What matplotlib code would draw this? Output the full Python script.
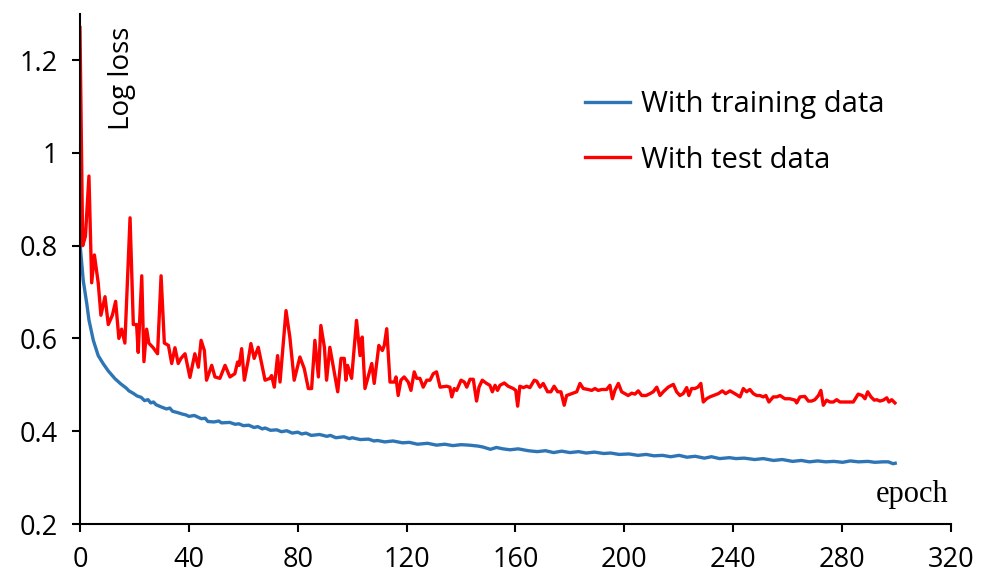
import matplotlib
matplotlib.use("Agg")
import matplotlib.pyplot as plt

# test-data log loss, vertices (epoch, value)
test_epoch = [0, 1, 2, 3.3, 4.3, 5.3, 6.7, 7.7, 9.2, 10.4, 11.9, 13.1, 14.3, 15.3, 16.5,
              18.4, 19.6, 20.8, 21.4, 22.7, 23.5, 24.5, 25.3, 26.9, 28.5, 29.8, 31, 32.5,
              33.7, 34.9, 36.1, 37.1, 38.6, 40.4, 42.2, 43.5, 44.5, 45.7, 46.5, 48.4, 49.6,
              51.4, 53.3, 55.1, 56.9, 57.9, 58.5, 59.4, 60.4, 61.8, 62.8, 64, 65.5, 67, 68,
              69.8, 70.4, 71.4, 72.6, 73.5, 75.7, 77.1, 78.7, 80.8, 82.4, 83.9, 85.1, 86.3,
              87.6, 88.5, 89.8, 90.6, 91.8, 93.1, 94.7, 95.9, 97.1, 97.7, 98.3, 99.8, 101.6,
              102.9, 103.7, 104.7, 107.2, 108.1, 109.8, 111.1, 111.8, 112.7, 113.9, 115.5,
              116.1, 116.9, 117.9, 119.1, 120.6, 121.6, 122.8, 123.7, 124.9, 126.1, 127.4,
              128.6, 129.8, 131, 132.3, 134.7, 135.9, 136.6, 137.5, 138.4, 140, 141.2, 142.1,
              143.3, 144.5, 145.7, 146.6, 147.8, 149.4, 150.6, 151.5, 152.5, 153.4, 154.3,
              155.9, 157.3, 159.2, 160.1, 160.8, 161.6, 162.9, 164.1, 165.3, 166.9, 167.8,
              169, 170.2, 171.8, 173, 174.2, 175.5, 176.7, 177.9, 178.8, 180.6, 182.5, 183.7,
              184.9, 186.7, 188, 189.2, 190.4, 191.7, 193.5, 194.7, 195.6, 196.5, 197.8, 199,
              200.2, 201.4, 202.7, 203.9, 205.1, 206.4, 208, 209.4, 210.6, 211.9, 213.1,
              214.3, 216.1, 218, 219.2, 220.4, 221.6, 222.9, 223.7, 224.7, 225.9, 227, 228.1,
              229, 230.2, 231.4, 232.7, 234.5, 236, 237.2, 238.8, 240.6, 242.5, 243.7, 244.9,
              246.1, 247.4, 248.6, 249.8, 251, 252, 253.1, 254.7, 256, 257.2, 259, 260.8,
              262.7, 263.3, 264.5, 266.3, 267.6, 268.8, 270, 271.3, 272.2, 273.1, 274.3,
              275.5, 276.8, 278, 279.2, 280.4, 282.3, 284.1, 285.9, 287.4, 288.4, 289.4,
              290.6, 291.8, 292.7, 293.9, 295.1, 296.4, 297.2, 298.2, 299.4]
test_loss = [1.27, 0.80, 0.82, 0.95, 0.72, 0.78, 0.72, 0.65, 0.69, 0.63, 0.65, 0.68, 0.60, 0.62, 0.59,
             0.86, 0.63, 0.63, 0.57, 0.735, 0.55, 0.62, 0.59, 0.58, 0.567, 0.735, 0.59, 0.585,
             0.546, 0.58, 0.546, 0.557, 0.567, 0.516, 0.567, 0.538, 0.596, 0.574, 0.51, 0.542, 0.517,
             0.514, 0.542, 0.517, 0.524, 0.549, 0.542, 0.578, 0.51, 0.553, 0.589, 0.557, 0.581, 0.538, 0.51,
             0.514, 0.52, 0.495, 0.563, 0.506, 0.66, 0.603, 0.51, 0.56, 0.535, 0.492, 0.492, 0.596,
             0.517, 0.628, 0.581, 0.51, 0.581, 0.538, 0.485, 0.557, 0.557, 0.51, 0.542, 0.514, 0.639,
             0.563, 0.603, 0.492, 0.546, 0.503, 0.585, 0.574, 0.585, 0.621, 0.506, 0.506,
             0.517, 0.477, 0.51, 0.517, 0.506, 0.488, 0.528, 0.514, 0.514, 0.495, 0.51,
             0.51, 0.524, 0.528, 0.495, 0.497, 0.495, 0.474, 0.492, 0.488, 0.51, 0.506, 0.495,
             0.512, 0.512, 0.465, 0.495, 0.51, 0.503, 0.499, 0.485, 0.499, 0.488, 0.499,
             0.504, 0.497, 0.492, 0.488, 0.454, 0.497, 0.494, 0.497, 0.494, 0.51, 0.508,
             0.495, 0.503, 0.485, 0.485, 0.497, 0.485, 0.485, 0.456, 0.477, 0.481, 0.485, 0.503,
             0.492, 0.49, 0.488, 0.492, 0.488, 0.49, 0.49, 0.499, 0.47, 0.488, 0.503, 0.485,
             0.481, 0.477, 0.482, 0.48, 0.487, 0.477, 0.477, 0.481, 0.485, 0.495, 0.477,
             0.485, 0.495, 0.501, 0.485, 0.477, 0.481, 0.494, 0.477, 0.492, 0.492, 0.495, 0.503,
             0.463, 0.47, 0.474, 0.477, 0.481, 0.487, 0.481, 0.487, 0.481, 0.474, 0.492, 0.485,
             0.49, 0.481, 0.477, 0.477, 0.474, 0.477, 0.463, 0.474, 0.474, 0.477, 0.47, 0.47,
             0.467, 0.461, 0.474, 0.475, 0.465, 0.465, 0.468, 0.477, 0.488, 0.456, 0.467,
             0.463, 0.463, 0.468, 0.463, 0.463, 0.463, 0.463, 0.48, 0.477, 0.47, 0.485,
             0.474, 0.467, 0.468, 0.465, 0.467, 0.472, 0.463, 0.468, 0.461]

# training-data log loss (small wiggles as seen in the picture)
train_epoch = [0, 1.2, 2.5, 3.3, 4.9, 6.7, 8.6, 10.4, 12.9, 15, 17, 18, 19.5, 21, 22.5, 23.7,
               25, 26, 27, 28, 30, 31.8, 33, 34, 36, 37.6, 39, 40, 42, 44.6, 46, 47, 49.2, 51,
               52, 55, 57, 58.4, 60, 62, 64, 65.3, 67, 68, 70, 72.3, 74, 76, 78, 80, 81.5, 83,
               85, 88, 90.7, 92, 94, 97, 99, 100, 103, 106, 108, 109.3, 112, 115, 118.5, 121,
               124, 127.7, 131, 134, 137, 140, 143, 146.2, 148, 150.8, 153, 155.4, 158, 161,
               164.7, 168, 171, 174, 177, 180, 183.2, 186, 189, 192.4, 195, 198, 201.7, 205,
               208, 210.9, 214, 217, 220.1, 223, 226, 229.4, 232, 235, 238.6, 241, 244, 247.9,
               251, 254.8, 258, 261.8, 265, 268, 271, 274, 277, 280.2, 283, 286, 289.5, 292,
               295, 297, 298.7, 299.5]
train_loss = [0.805, 0.725, 0.675, 0.64, 0.596, 0.563, 0.545, 0.53, 0.513, 0.502, 0.493, 0.487,
              0.482, 0.476, 0.473, 0.466, 0.468, 0.461, 0.463, 0.457, 0.452, 0.448, 0.45, 0.443,
              0.44, 0.437, 0.435, 0.432, 0.434, 0.427, 0.428, 0.421, 0.42, 0.422, 0.418,
              0.419, 0.415, 0.416, 0.412, 0.413, 0.408, 0.41, 0.405, 0.407, 0.402, 0.403, 0.399,
              0.401, 0.396, 0.398, 0.394, 0.396, 0.391, 0.393, 0.389, 0.391, 0.386, 0.388,
              0.384, 0.386, 0.382, 0.383, 0.379, 0.38, 0.377, 0.379, 0.375, 0.376, 0.372, 0.374,
              0.37, 0.372, 0.369, 0.371, 0.37, 0.368, 0.366, 0.361, 0.365, 0.362, 0.36, 0.362,
              0.358, 0.356, 0.358, 0.354, 0.357, 0.354, 0.356, 0.353, 0.355, 0.352, 0.353, 0.35,
              0.351, 0.348, 0.35, 0.347, 0.348, 0.345, 0.348, 0.344, 0.346, 0.342, 0.345, 0.341,
              0.343, 0.341, 0.342, 0.339, 0.341, 0.337, 0.339, 0.335, 0.337, 0.334, 0.336,
              0.334, 0.335, 0.333, 0.336, 0.334, 0.335, 0.333, 0.334, 0.334, 0.33, 0.331]

x_ticks = [0, 40, 80, 120, 160, 200, 240, 280, 320]
y_ticks = [0.2, 0.4, 0.6, 0.8, 1.0, 1.2]
y_labels = ["0.2", "0.4", "0.6", "0.8", "1", "1.2"]

plt.rcParams['font.family'] = ['Open Sans', 'DejaVu Sans']

fig = plt.figure(figsize=(9.86, 5.74), dpi=100)
ax = fig.add_axes([0.0811, 0.0871, 0.8834, 0.8890])

ax.plot(train_epoch, train_loss, color='#2E75B6', lw=2.4, label='With training data')
ax.plot(test_epoch, test_loss, color='#FF0000', lw=2.4, label='With test data')

ax.set_xlim(0, 320)
ax.set_ylim(0.2, 1.3)
ax.set_xticks(x_ticks)
ax.set_yticks(y_ticks)
ax.set_yticklabels(y_labels)
ax.tick_params(axis='both', labelsize=19.5, width=1.5, length=6, direction='out')
ax.tick_params(axis='y', pad=10)
ax.tick_params(axis='x', pad=10)

for side in ('top', 'right'):
    ax.spines[side].set_visible(False)
for side in ('left', 'bottom'):
    ax.spines[side].set_linewidth(1.5)
    ax.spines[side].set_clip_on(False)

ax.text(0.048, 0.975, 'Log loss', rotation=90, transform=ax.transAxes,
        fontsize=20, ha='center', va='top')
ax.text(0.997, 0.03, 'epoch', transform=ax.transAxes, fontsize=22,
        family='Liberation Serif', ha='right', va='bottom')

ax.legend(loc='upper left', bbox_to_anchor=(0.58, 0.85), frameon=False,
          fontsize=21, handlelength=1.55, handletextpad=0.35, labelspacing=0.9,
          borderpad=0, borderaxespad=0)

fig.savefig('out.png', dpi=100)
